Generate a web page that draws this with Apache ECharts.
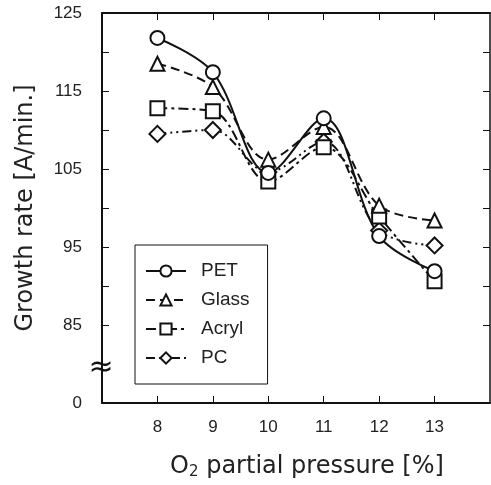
<!DOCTYPE html>
<html>
<head>
<meta charset="utf-8">
<script src="https://cdn.jsdelivr.net/npm/echarts@6/dist/echarts.min.js"></script>
<style>
  html, body { margin: 0; padding: 0; background: #fff; }
  #main { width: 491px; height: 485px; }
</style>
</head>
<body>
<div id="main"></div>
<script>
  // O2 partial pressure [%]
  var pressure = [8, 9, 10, 11, 12, 13];
  // growth rate [A/min.]
  var petData = [121.8, 117.4, 104.5, 111.5, 96.4, 91.9];
  var glassData = [118.5, 115.5, 106.2, 110.4, 100.3, 98.4];
  var acrylData = [112.8, 112.4, 103.4, 107.8, 98.9, 90.6];
  var pcData = [109.5, 110.0, 104.6, 108.5, 97.1, 95.2];
  // y labels: the bottom one (75) stands for the broken-off 0
  var yLabelValues = [75, 85, 95, 105, 115, 125];
  var yTickValues = [85, 90, 95, 100, 105, 110, 115, 120, 125];

  function pairs(ys) {
    return pressure.map(function (x, i) { return [x, ys[i]]; });
  }

  var chart = echarts.init(document.getElementById('main'));
  var fontFamily = 'Liberation Sans, Arial, sans-serif';
  var titleFont = 'DejaVu Sans, sans-serif';
  var ink = '#111';

  function series(name, data, symbol, dash) {
    return {
      name: name,
      type: 'line',
      data: pairs(data),
      smooth: 0.35,
      symbol: symbol,
      symbolSize: symbol === 'diamond' ? 16 : 14,
      itemStyle: { color: '#fff', borderColor: ink, borderWidth: 2 },
      lineStyle: { color: ink, width: 2, type: dash }
    };
  }

  var option = {
    animation: false,
    textStyle: { fontFamily: fontFamily },
    grid: { left: 102, right: 1, top: 13, bottom: 81 },
    legend: {
      orient: 'vertical',
      left: 135,
      top: 245,
      padding: [16, 18, 16, 10],
      itemGap: 9,
      itemWidth: 40,
      itemHeight: 14,
      borderColor: ink,
      borderWidth: 1,
      textStyle: { fontSize: 19, lineHeight: 20, color: '#222', padding: [0, 0, 0, 10] },
      data: ['PET', 'Glass', 'Acryl', 'PC']
    },
    xAxis: [{
      type: 'value',
      min: 7,
      max: 14,
      interval: 1,
      name: 'O{sub|2} partial pressure [%]',
      nameLocation: 'middle',
      nameGap: 50,
      nameTextStyle: {
        fontSize: 24, color: '#222', fontFamily: titleFont, padding: [0, 0, 0, 22],
        rich: { sub: { fontSize: 15, fontFamily: titleFont, verticalAlign: 'bottom', padding: [12, 0, 0, 0] } }
      },
      axisLine: { lineStyle: { color: ink, width: 2 } },
      axisTick: { inside: true, length: 7, customValues: pressure, lineStyle: { color: ink } },
      axisLabel: { customValues: pressure, fontSize: 17, color: '#222', margin: 16 },
      splitLine: { show: false }
    }, {
      type: 'value',
      position: 'top',
      min: 7,
      max: 14,
      interval: 1,
      axisLine: { lineStyle: { color: ink, width: 2 } },
      axisTick: { inside: true, length: 7, customValues: pressure, lineStyle: { color: ink } },
      axisLabel: { show: false },
      splitLine: { show: false }
    }],
    yAxis: [{
      type: 'value',
      min: 75,
      max: 125,
      interval: 5,
      name: 'Growth rate [A/min.]',
      nameLocation: 'middle',
      nameGap: 64,
      nameTextStyle: { fontSize: 24, color: '#222', fontFamily: titleFont },
      axisLine: { lineStyle: { color: ink, width: 2 } },
      axisTick: { inside: true, length: 7, customValues: yTickValues, lineStyle: { color: ink } },
      axisLabel: {
        customValues: yLabelValues,
        fontSize: 17,
        color: '#222',
        margin: 20,
        formatter: function (v) { return v === 75 ? '0' : String(v); }
      },
      splitLine: { show: false }
    }, {
      type: 'value',
      position: 'right',
      min: 75,
      max: 125,
      interval: 5,
      axisLine: { lineStyle: { color: ink, width: 1.5 } },
      axisTick: { inside: true, length: 7, customValues: yTickValues, lineStyle: { color: ink } },
      axisLabel: { show: false },
      splitLine: { show: false }
    }],
    series: [
      series('PC', pcData, 'diamond', [9, 4, 2, 4, 2, 4]),
      series('Acryl', acrylData, 'rect', [10, 4, 3, 4]),
      series('Glass', glassData, 'triangle', [9, 5]),
      series('PET', petData, 'circle', 'solid')
    ]
  };
  chart.setOption(option);

  // axis break mark between 85 and 0
  var p = chart.convertToPixel({ xAxisIndex: 0, yAxisIndex: 0 }, [7, 80]);
  chart.setOption({
    graphic: [{
      type: 'text',
      x: p[0] - 1,
      y: p[1] + 4,
      style: {
        text: '\u2248',
        fontSize: 30,
        fontFamily: 'DejaVu Sans',
        fill: ink,
        align: 'center',
        verticalAlign: 'middle'
      }
    }]
  });
</script>
</body>
</html>
